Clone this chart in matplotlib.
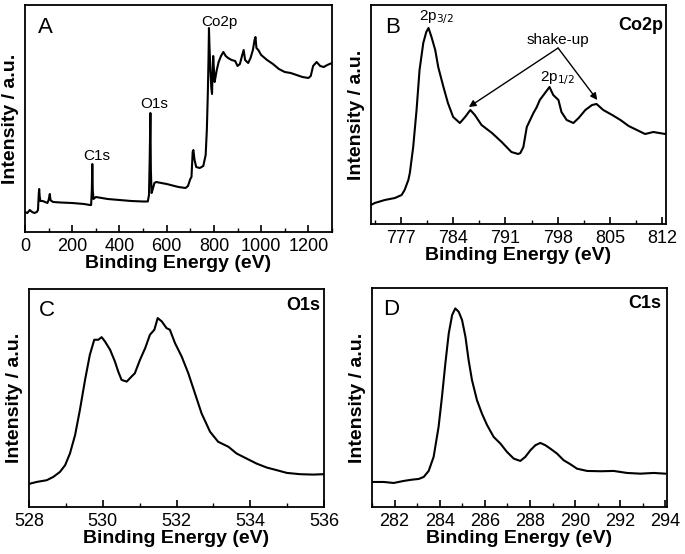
import matplotlib
matplotlib.use("Agg")
import matplotlib.pyplot as plt
from matplotlib.ticker import MultipleLocator

plt.rcParams['font.family'] = ['Liberation Sans', 'DejaVu Sans']

# ---- survey spectrum (A) ----
survey_ev = [0, 10, 20, 30, 40, 50, 55, 58, 60, 62, 65, 75, 85, 95, 100, 105, 108, 112,
             120, 150, 200, 250, 275, 280, 283, 285, 287, 290, 300, 350, 400, 450, 500,
             520, 525, 528, 531, 533, 536, 540, 548, 555, 600, 650, 680, 690, 700, 705,
             710, 713, 718, 725, 740, 755, 765, 770, 774, 777, 779, 781, 785, 789, 792,
             794, 797, 800, 803, 806, 812, 820, 830, 840, 850, 860, 875, 890, 900, 910,
             920, 926, 932, 945, 955, 965, 972, 976, 980, 988, 1000, 1025, 1050, 1075,
             1100, 1125, 1150, 1175, 1200, 1210, 1220, 1235, 1250, 1265, 1280, 1300]
survey_int = [20, 19, 22, 20, 19, 20, 22, 37, 43, 36, 31, 31, 30, 29, 32, 38, 32, 31,
              30, 29.5, 29, 28, 27, 27, 42, 68, 42, 33, 35, 33, 32, 31, 30.5,
              30.5, 37, 72, 119, 62, 39, 42, 49, 50, 48, 45, 44, 46, 53, 55,
              80, 82, 72, 65, 64, 66, 77, 102, 137, 172, 204, 187, 162, 144, 138,
              157, 176, 162, 150, 154, 162, 170, 176, 180, 176, 174, 172, 171, 166, 168,
              177, 182, 172, 169, 174, 182, 192, 195, 184, 182, 177, 172, 168, 163,
              160, 159, 157, 155, 154, 156, 166, 170, 166, 165, 167, 169]

# ---- Co2p (B) ----
co_ev = [773.0, 773.5, 774.85, 776.2, 777.1, 777.5, 778.0, 778.2, 778.65, 779.1, 779.5,
         780.0, 780.4, 780.7, 781.1, 781.6, 782.0, 782.7, 783.3, 784.0, 784.9, 785.6,
         786.3, 786.9, 787.8, 789.2, 790.5, 791.8, 792.7, 793.0, 793.4, 793.86, 794.75,
         795.2, 795.6, 796.3, 796.9, 797.4, 798.1, 798.5, 799.2, 800.1, 800.8, 801.7,
         802.6, 803.2, 804.1, 805.3, 806.4, 807.5, 808.6, 809.7, 810.8, 812.4]
co_int = [19, 21, 24, 26, 29, 34, 44, 51, 77, 114, 154,
          181, 192, 196, 187, 174, 157, 137, 121, 107, 101, 107,
          114, 109, 99, 91, 82, 72, 70, 71, 77, 97, 111,
          117, 124, 131, 137, 129, 124, 112, 104, 101, 106, 114,
          119, 120, 114, 109, 104, 98, 94, 90, 92, 90]

# ---- O1s (C) ----
o_ev = [528.03, 528.21, 528.48, 528.66, 528.84, 528.98, 529.11, 529.25, 529.38, 529.52,
        529.65, 529.77, 529.88, 529.97, 530.06, 530.20, 530.33, 530.42, 530.51, 530.65,
        530.78, 530.87, 531.01, 531.15, 531.28, 531.40, 531.49, 531.60, 531.73, 531.82,
        531.96, 532.14, 532.32, 532.50, 532.68, 532.91, 533.13, 533.41, 533.63, 533.90,
        534.17, 534.45, 534.72, 534.99, 535.35, 535.71, 535.98]
o_int = [23.3, 25, 26.7, 30, 35, 41.7, 53.3, 71.7, 96.7, 126.7,
         151.7, 166.7, 166.7, 169.3, 165, 156.7, 145, 135, 126.7, 125,
         130, 133.3, 146.7, 158.3, 171.7, 176.7, 188.3, 185, 178.3, 176.7,
         163.3, 150, 133.3, 113.3, 93.3, 75, 65, 60, 53.3, 48.3,
         43.3, 39.3, 36.7, 34, 32.7, 32.3, 32.7]

# ---- C1s (D) ----
c_ev = [281.00, 281.52, 281.96, 282.40, 282.77, 283.07, 283.29, 283.51, 283.73, 283.95,
        284.10, 284.25, 284.40, 284.55, 284.69, 284.84, 284.99, 285.14, 285.28, 285.43,
        285.65, 285.87, 286.10, 286.39, 286.69, 286.98, 287.28, 287.57, 287.79, 288.02,
        288.24, 288.46, 288.68, 288.90, 289.20, 289.49, 289.79, 290.08, 290.53, 291.12,
        291.71, 292.30, 292.89, 293.48, 293.99]
c_int = [25, 25, 24, 26, 27.3, 28, 30, 36, 50, 80,
         110, 143.3, 173.3, 191.7, 198.3, 195, 186.7, 170, 146.7, 126.7,
         106.7, 93.3, 81.7, 70, 63.3, 55, 48.3, 46, 50, 56.7,
         61.7, 64, 61.7, 58.3, 53.3, 46.7, 42.7, 38.3, 36, 35.7,
         36, 34, 33.3, 34, 33.3]

W, H = 685, 554
fig = plt.figure(figsize=(W / 100, H / 100), dpi=100)


def box(l, t, r, b):
    return [l / W, 1 - b / H, (r - l) / W, (b - t) / H]


def style(ax, xmin, xmax, major, minor, top):
    ax.set_xlim(xmin, xmax)
    ax.set_ylim(0, top)
    ax.xaxis.set_major_locator(MultipleLocator(major))
    ax.xaxis.set_minor_locator(MultipleLocator(minor))
    ax.set_yticks([])
    ax.tick_params(axis='x', which='major', direction='in', length=5, width=1.2,
                   labelsize=13, pad=4)
    ax.tick_params(axis='x', which='minor', direction='in', length=3, width=1.0)
    for s in ax.spines.values():
        s.set_linewidth(1.3)
    ax.set_xlabel('Binding Energy (eV)', fontsize=14, fontweight='bold', labelpad=0)
    ax.set_ylabel('Intensity / a.u.', fontsize=14, fontweight='bold', labelpad=4)


axA = fig.add_axes(box(25, 5, 332, 232))
axA.plot(survey_ev, survey_int, color='black', lw=1.5)
style(axA, 0, 1300, 200, 100, 227)
axA.text(0.042, 0.903, 'A', transform=axA.transAxes, fontsize=16, va='center')
axA.text(302, 71.5, 'C1s', fontsize=11, ha='center', va='baseline')
axA.text(545, 124, 'O1s', fontsize=11, ha='center', va='baseline')
axA.text(824, 206, 'Co2p', fontsize=11, ha='center', va='baseline')

axB = fig.add_axes(box(371, 5, 666, 224))
axB.plot(co_ev, co_int, color='black', lw=1.5)
style(axB, 773.0, 812.5, 7, 3.5, 219)
axB.text(0.047, 0.897, 'B', transform=axB.transAxes, fontsize=16, va='center')
axB.text(0.99, 0.886, 'Co2p', transform=axB.transAxes, fontsize=13,
         fontweight='bold', ha='right', va='baseline')
axB.text(781.8, 207, r'2p$_{3/2}$', fontsize=11, ha='center', va='center')
axB.text(797.9, 146, r'2p$_{1/2}$', fontsize=11, ha='center', va='center')
axB.text(798.05, 184, 'shake-up', fontsize=11, ha='center', va='center')
for tip in [(786.1, 117), (803.3, 124)]:
    axB.annotate('', xy=tip, xytext=(798.05, 176),
                 arrowprops=dict(arrowstyle='-|>', color='black', lw=1.0,
                                 mutation_scale=10, shrinkA=0, shrinkB=0))

axC = fig.add_axes(box(29, 289, 324, 507))
axC.plot(o_ev, o_int, color='black', lw=1.5)
style(axC, 528, 536, 2, 1, 217.3)
axC.text(0.034, 0.90, 'C', transform=axC.transAxes, fontsize=16, va='center')
axC.text(0.986, 0.904, 'O1s', transform=axC.transAxes, fontsize=13,
         fontweight='bold', ha='right', va='baseline')

axD = fig.add_axes(box(372, 288, 667, 507))
axD.plot(c_ev, c_int, color='black', lw=1.5)
style(axD, 281, 294.07, 2, 1, 218.7)
axD.text(0.037, 0.90, 'D', transform=axD.transAxes, fontsize=16, va='center')
axD.text(0.982, 0.907, 'C1s', transform=axD.transAxes, fontsize=13,
         fontweight='bold', ha='right', va='baseline')

fig.savefig('out.png', dpi=100)
